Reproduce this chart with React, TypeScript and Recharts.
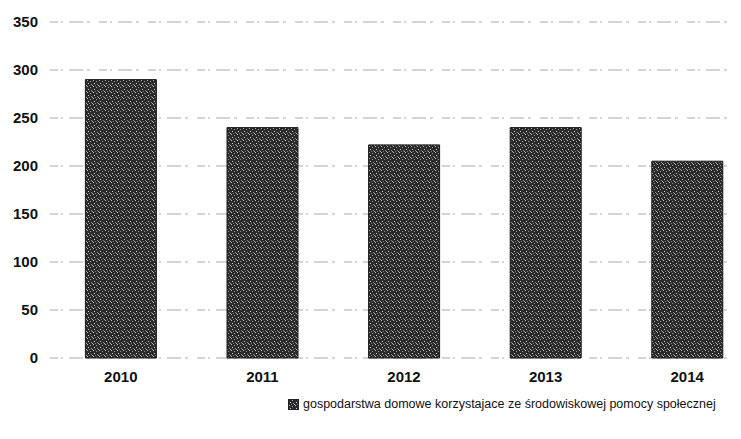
import React from 'react';
import { BarChart, Bar, XAxis, YAxis, CartesianGrid, Legend } from 'recharts';

const years = ['2010', '2011', '2012', '2013', '2014'];
const households = [290, 240, 222, 240, 205];
const yTicks = [0, 50, 100, 150, 200, 250, 300, 350];
const seriesName = 'gospodarstwa domowe korzystajace ze środowiskowej pomocy społecznej';

const data = years.map((y, i) => ({ year: y, value: households[i] }));

const font = 'Liberation Sans, Arial, sans-serif';

const LegendContent = () => (
  <div style={{ display: 'flex', alignItems: 'center', fontFamily: font, fontSize: 12.5, color: '#111', whiteSpace: 'nowrap' }}>
    <svg width={11} height={11} style={{ marginRight: 4 }}>
      <rect x={0.5} y={0.5} width={10} height={10} fill="url(#noise)" stroke="#222" />
    </svg>
    <span>{seriesName}</span>
  </div>
);

export default function App() {
  return (
    <BarChart
      width={733}
      height={431}
      data={data}
      margin={{ top: 14, right: -17, left: 0, bottom: 37 }}
      barCategoryGap="25%"
      style={{ background: '#fff' }}
    >
      <defs>
        <pattern id="noise" width={6} height={6} patternUnits="userSpaceOnUse">
          <rect width={6} height={6} fill="#2b2b2b" />
          <rect x={1} y={0} width={1} height={1} fill="#bbb" />
          <rect x={4} y={1} width={1} height={1} fill="#999" />
          <rect x={2} y={3} width={1} height={1} fill="#ccc" />
          <rect x={5} y={4} width={1} height={1} fill="#888" />
          <rect x={0} y={5} width={1} height={1} fill="#aaa" />
          <rect x={3} y={5} width={1} height={1} fill="#777" />
        </pattern>
      </defs>
      <CartesianGrid vertical={false} stroke="#a8a8a8" strokeDasharray="8 3 2 6 14 4 3 9" strokeWidth={1} />
      <XAxis
        dataKey="year"
        axisLine={false}
        tickLine={false}
        tickMargin={7}
        tick={{ fontFamily: font, fontSize: 15, fontWeight: 700, fill: '#111' }}
      />
      <YAxis
        domain={[0, 350]}
        ticks={yTicks}
        width={42}
        axisLine={false}
        tickLine={false}
        tickMargin={6}
        tick={{ fontFamily: font, fontSize: 15, fontWeight: 700, fill: '#111' }}
      />
      <Legend
        content={<LegendContent />}
        wrapperStyle={{ position: 'absolute', top: 389, left: 280, width: 450 }}
      />
      <Bar dataKey="value" name={seriesName} fill="url(#noise)" stroke="#1a1a1a" strokeWidth={1} isAnimationActive={false} />
    </BarChart>
  );
}
